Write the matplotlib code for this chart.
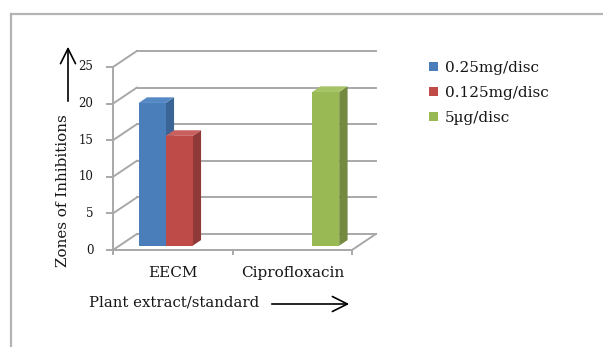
import numpy as np
import matplotlib
matplotlib.use("Agg")
from matplotlib import pyplot as plt
from matplotlib.patches import Polygon, Patch, FancyArrowPatch
from matplotlib.lines import Line2D

# chart data
categories = ["EECM", "Ciprofloxacin"]
series_names = ["0.25mg/disc", "0.125mg/disc", "5\u00b5g/disc"]
series_values = [
    [19.5, None],   # 0.25mg/disc
    [15.0, None],   # 0.125mg/disc
    [None, 21.0],   # 5ug/disc
]
y_ticks = [0, 5, 10, 15, 20, 25]

front_colors = ["#4a7ebb", "#be4b48", "#98b954"]
top_colors = ["#5589c6", "#c9605d", "#a6c466"]
side_colors = ["#3a6396", "#8f3a38", "#72893f"]
grid_color = "#a8a8a8"
text_color = "#161616"
FONT = "DejaVu Serif"

W_PX, H_PX = 603, 347
fig = plt.figure(figsize=(W_PX / 100, H_PX / 100), dpi=100)

# fake 3d depth, in data units
DX = 0.2          # category units
DY = 2.19         # value units
F0, F1 = 0.27, 0.62   # bar front / back depth fraction
ymax = y_ticks[-1]

# axes placed so that front axis starts at (113, 250) px
left_px, bottom_px = 113, 250
px_per_cat, px_per_val = 119.5, 7.32
ax = fig.add_axes([left_px / W_PX, (H_PX - bottom_px) / H_PX,
                   (len(categories) + DX) * px_per_cat / W_PX,
                   (ymax + DY) * px_per_val / H_PX])
ax.set_xlim(0, len(categories) + DX)
ax.set_ylim(0, ymax + DY)
ax.axis("off")

n = len(categories)
lw = 1.4
# back wall gridlines and the diagonal side wall lines
for v in y_ticks:
    ax.plot([DX, n + DX], [v + DY, v + DY], color=grid_color, lw=lw, clip_on=False)
    ax.plot([0, DX], [v, v + DY], color=grid_color, lw=lw, clip_on=False)
    ax.plot([-0.05, 0], [v, v], color=grid_color, lw=lw, clip_on=False)
    ax.text(-0.165, v, str(v), ha="right", va="center", fontsize=8.5,
            family=FONT, color=text_color)
# floor
ax.plot([n, n + DX], [0, DY], color=grid_color, lw=lw, clip_on=False)
# front axes
ax.plot([0, n], [0, 0], color=grid_color, lw=lw, clip_on=False)
ax.plot([0, 0], [0, ymax], color=grid_color, lw=lw, clip_on=False)
for i in range(n + 1):
    ax.plot([i, i], [0, -0.6], color=grid_color, lw=lw, clip_on=False)
for i, c in enumerate(categories):
    ax.text(i + 0.5, -3.2, c, ha="center", va="center", fontsize=11,
            family=FONT, color=text_color)

# bars
bw = 0.226
for k, vals in enumerate(series_values):
    for i, v in enumerate(vals):
        if v is None:
            continue
        x0 = i + 0.5 - 1.5 * bw + k * bw
        x1 = x0 + bw
        a0, b0 = F0 * DX, F0 * DY
        a1, b1 = F1 * DX, F1 * DY
        side = [(x1 + a0, b0), (x1 + a1, b1), (x1 + a1, v + b1), (x1 + a0, v + b0)]
        top = [(x0 + a0, v + b0), (x1 + a0, v + b0), (x1 + a1, v + b1), (x0 + a1, v + b1)]
        front = [(x0 + a0, b0), (x1 + a0, b0), (x1 + a0, v + b0), (x0 + a0, v + b0)]
        ax.add_patch(Polygon(side, closed=True, fc=side_colors[k], ec="none", zorder=3))
        ax.add_patch(Polygon(top, closed=True, fc=top_colors[k], ec="none", zorder=3))
        ax.add_patch(Polygon(front, closed=True, fc=front_colors[k], ec="none", zorder=3))

# legend
handles = [Patch(fc=c, ec="none") for c in front_colors]
leg = fig.legend(handles, series_names, loc="upper left",
                 bbox_to_anchor=(415 / W_PX, 1 - 47 / H_PX), frameon=False,
                 handlelength=0.6, handleheight=0.6, handletextpad=0.45,
                 labelspacing=0.72, prop={"family": FONT, "size": 11})
for t in leg.get_texts():
    t.set_color(text_color)

# axis titles with arrows
fig.text(63 / W_PX, 1 - 191 / H_PX, "Zones of Inhibitions", rotation=90,
         ha="center", va="center", fontsize=10.9, family=FONT, color=text_color)
fig.text(89 / W_PX, 1 - 302 / H_PX, "Plant extract/standard",
         ha="left", va="center", fontsize=10.7, family=FONT, color=text_color)
arrow = dict(arrowstyle="->,head_length=0.9,head_width=0.45", color="black", lw=1.2)
fig.add_artist(FancyArrowPatch(
    (68 / W_PX, 1 - 104 / H_PX), (68 / W_PX, 1 - 44 / H_PX),
    transform=fig.transFigure, **arrow, mutation_scale=12))
fig.add_artist(FancyArrowPatch(
    (269 / W_PX, 1 - 304 / H_PX), (352 / W_PX, 1 - 304 / H_PX),
    transform=fig.transFigure, **arrow, mutation_scale=12))

# outer frame (top and left edges)
fig.add_artist(Line2D([11 / W_PX, 1], [1 - 14 / H_PX, 1 - 14 / H_PX],
                      transform=fig.transFigure, color="#b4b4b4", lw=1.6))
fig.add_artist(Line2D([11 / W_PX, 11 / W_PX], [0, 1 - 14 / H_PX],
                      transform=fig.transFigure, color="#b4b4b4", lw=1.6))

fig.savefig("out.png", dpi=100)
